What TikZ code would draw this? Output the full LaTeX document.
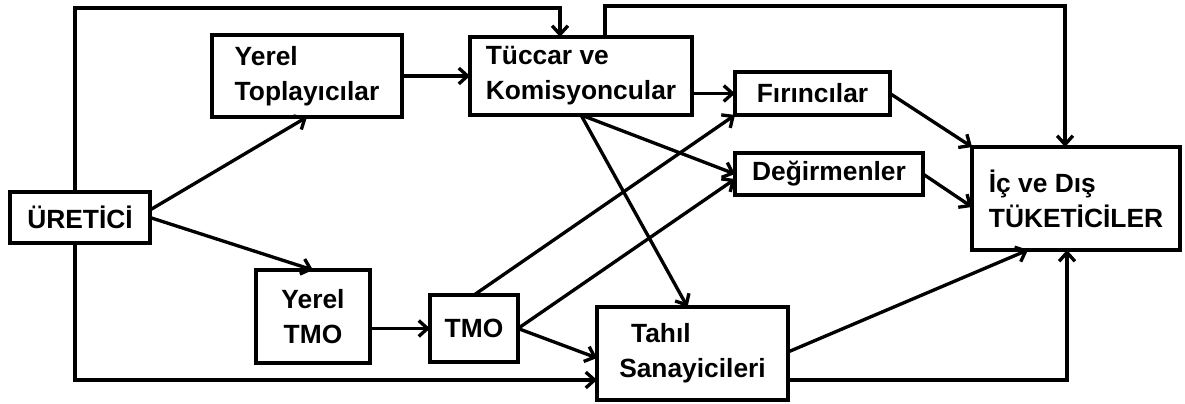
\documentclass[tikz,border=0pt]{standalone}
\usepackage{fontspec}
\setmainfont{Liberation Sans}
\usetikzlibrary{arrows.meta}

\begin{document}
\begin{tikzpicture}[x=0.02cm, y=-0.02cm,
		box/.style={draw, line width=1.9pt, inner sep=2pt, outer sep=0pt,
			font=\bfseries\fontsize{15}{20}\selectfont},
		arr/.style={line width=1.9pt, -{Straight Barb[length=5pt,width=9pt]}}]
		\useasboundingbox (0,0) rectangle (1185,404);

		\node[box, minimum width=2.8cm, minimum height=1.02cm] (uretici) at (80,217.5) {ÜRETİCİ};
		\node[box, minimum width=3.8cm, minimum height=1.64cm, align=left] (yerelTop) at (307,76) {Yerel\\Toplayıcılar};
		\node[box, minimum width=4.44cm, minimum height=1.56cm, align=left] (tuccar) at (581,76) {Tüccar ve\\Komisyoncular};
		\node[box, minimum width=3.1cm, minimum height=0.86cm] (firin) at (812.5,93.5) {Fırıncılar};
		\node[box, minimum width=3.76cm, minimum height=0.84cm] (degirmen) at (829,174) {Değirmenler};
		\node[box, minimum width=4.16cm, minimum height=2.06cm, align=left] (tuketici) at (1076,198.5) {İç ve Dış\\TÜKETİCİLER};
		\node[box, minimum width=2.28cm, minimum height=1.86cm, align=center] (yerelTMO) at (313,316.5) {Yerel\\TMO};
		\node[box, minimum width=1.76cm, minimum height=1.34cm] (tmo) at (474,328.5) {TMO};
		\node[box, minimum width=3.82cm, minimum height=1.86cm, align=left] (tahil) at (692.5,353.5) {\hspace{0.45em}Tahıl\\Sanayicileri};

		% ust ve alt donusler
		\draw[arr] ([xshift=-0.1cm]uretici.north) -- ++(0,-184) -| ([xshift=-0.42cm]tuccar.north);
		\draw[arr] ([xshift=0.48cm]tuccar.north) -- ++(0,-31) -| ([xshift=-0.22cm]tuketici.north);
		\draw[arr] ([xshift=-0.1cm]uretici.south) |- ([yshift=-0.53cm]tahil.west);
		\draw[arr] ([yshift=-0.53cm]tahil.east) -| ([xshift=-0.18cm]tuketici.south);

		% ureticiden
		\draw[arr] ([yshift=0.15cm]uretici.east) -- (yerelTop.south);
		\draw[arr] (uretici.east) -- (yerelTMO.north);
		\draw[arr] (yerelTop.east) -- (tuccar.west);
		\draw[arr] (yerelTMO.east |- tmo.west) -- (tmo.west);

		% tuccar ve TMO
		\draw[arr] (tuccar.east |- firin.west) -- (firin.west);
		\draw[arr] (tuccar.south) -- (degirmen.west);
		\draw[arr] (tuccar.south) -- ([xshift=-0.1cm]tahil.north);
		\draw[arr] (tmo.north) -- (firin.south west);
		\draw[arr] (tmo.east) -- ([yshift=-0.1cm]degirmen.west);
		\draw[arr] (tmo.east) -- ([yshift=-0.09cm]tahil.west);

		% tuketicilere
		\draw[arr] (firin.east) -- (tuketici.north west);
		\draw[arr] (degirmen.east) -- ([yshift=-0.17cm]tuketici.west);
		\draw[arr] ([yshift=0.03cm]tahil.east) -- ([xshift=-0.96cm]tuketici.south);

	\end{tikzpicture}
\end{document}
